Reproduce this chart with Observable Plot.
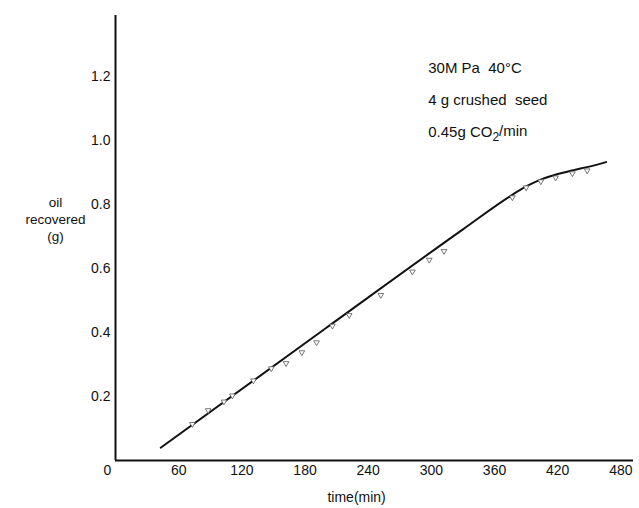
<!DOCTYPE html>
<html>
<head>
<meta charset="utf-8">
<script src="https://cdn.jsdelivr.net/npm/d3@7"></script>
<script src="https://cdn.jsdelivr.net/npm/@observablehq/plot@0.6"></script>
<style>
  html, body { margin: 0; padding: 0; background: #fff; }
</style>
</head>
<body>
<div id="chart"></div>
<script>
// Measured points (time, min; oil recovered, g)
const pointTime = [73, 88, 103, 111, 131, 148, 162, 177, 191, 206, 222, 252, 282, 298, 312, 377, 390, 404, 418, 434, 448];
const pointOil  = [0.12, 0.163, 0.19, 0.209, 0.256, 0.294, 0.31, 0.344, 0.375, 0.427, 0.46, 0.523, 0.596, 0.633, 0.66, 0.828, 0.859, 0.878, 0.89, 0.903, 0.912];

// Fitted curve
const curveTime = [43, 200, 330, 375, 390, 405, 420, 435, 450, 466];
const curveOil  = [0.04, 0.414, 0.722, 0.826, 0.856, 0.879, 0.895, 0.907, 0.918, 0.932];

// Ticks
const xTicks = [60, 120, 180, 240, 300, 360, 420, 480];
const yTicks = [0.2, 0.4, 0.6, 0.8, 1.0, 1.2];
const yTickLabels = ["0.2", "0.4", "0.6", "0.8", "1.0", "1.2"];

// Annotation text
const noteLines = ["30M Pa  40\u00B0C", "4 g crushed  seed", "0.45g CO\u2082/min"];
const noteOil = [1.225, 1.125, 1.025];

const points = pointTime.map((t, i) => ({t, v: pointOil[i]}));
const curve = curveTime.map((t, i) => ({t, v: curveOil[i]}));
const notes = noteLines.map((s, i) => ({s, v: noteOil[i]}));

const chart = Plot.plot({
  width: 639,
  height: 508,
  marginLeft: 115,
  marginRight: 6,
  marginTop: 15,
  marginBottom: 48,
  x: {domain: [0, 492]},
  y: {domain: [0, 1.39]},
  style: {fontFamily: "'Liberation Sans', Arial, sans-serif", fontSize: "14px", background: "#fff", color: "#111"},
  marks: [
    Plot.axisX(xTicks, {tickSize: 0, tickPadding: 5, label: null, fontSize: 14}),
    Plot.text([0], {x: d => d, y: () => 0, text: () => "0", dx: -8, dy: 10, fontSize: 14}),
    Plot.axisY(yTicks, {tickSize: 0, tickPadding: 5, tickFormat: (d, i) => yTickLabels[i], label: null, fontSize: 14}),
    Plot.ruleX([0], {y1: 0, y2: 1.39, stroke: "#111", strokeWidth: 2}),
    Plot.ruleY([0], {x1: 0, x2: 492, stroke: "#111", strokeWidth: 2}),
    Plot.line(curve, {x: "t", y: "v", curve: "monotone-x", stroke: "#111", strokeWidth: 2}),
    Plot.dot(points, {x: "t", y: "v", symbol: "triangle", rotate: 180, r: 2.1, stroke: "#555", strokeWidth: 0.8, fill: "#fff", dy: 2}),
    Plot.text(notes, {x: () => 297, y: "v", text: "s", textAnchor: "start", fontSize: 15, fill: "#111"}),
    Plot.text(["oil\nrecovered\n(g)"], {frameAnchor: "left", y: () => 0.755, dx: -60, text: d => d, textAnchor: "middle", lineHeight: 1.25, fontSize: 13.5, fill: "#111"}),
    Plot.text(["time(min)"], {frameAnchor: "bottom", x: () => 229, dy: 41, text: d => d, fontSize: 14, fill: "#111"})
  ]
});

// Render the CO2 subscript as a real subscript
d3.select(chart).selectAll("text").each(function() {
  const el = d3.select(this);
  if (el.selectAll("tspan").empty() && el.text().includes("CO\u2082")) {
    const parts = el.text().split("CO\u2082");
    el.text(null);
    el.append("tspan").text(parts[0] + "CO");
    el.append("tspan").attr("dy", "0.3em").attr("font-size", "12").text("2");
    el.append("tspan").attr("dy", "-0.3em").text("/min".length ? parts[1] : "");
  }
});
document.getElementById("chart").appendChild(chart);
</script>
</body>
</html>
